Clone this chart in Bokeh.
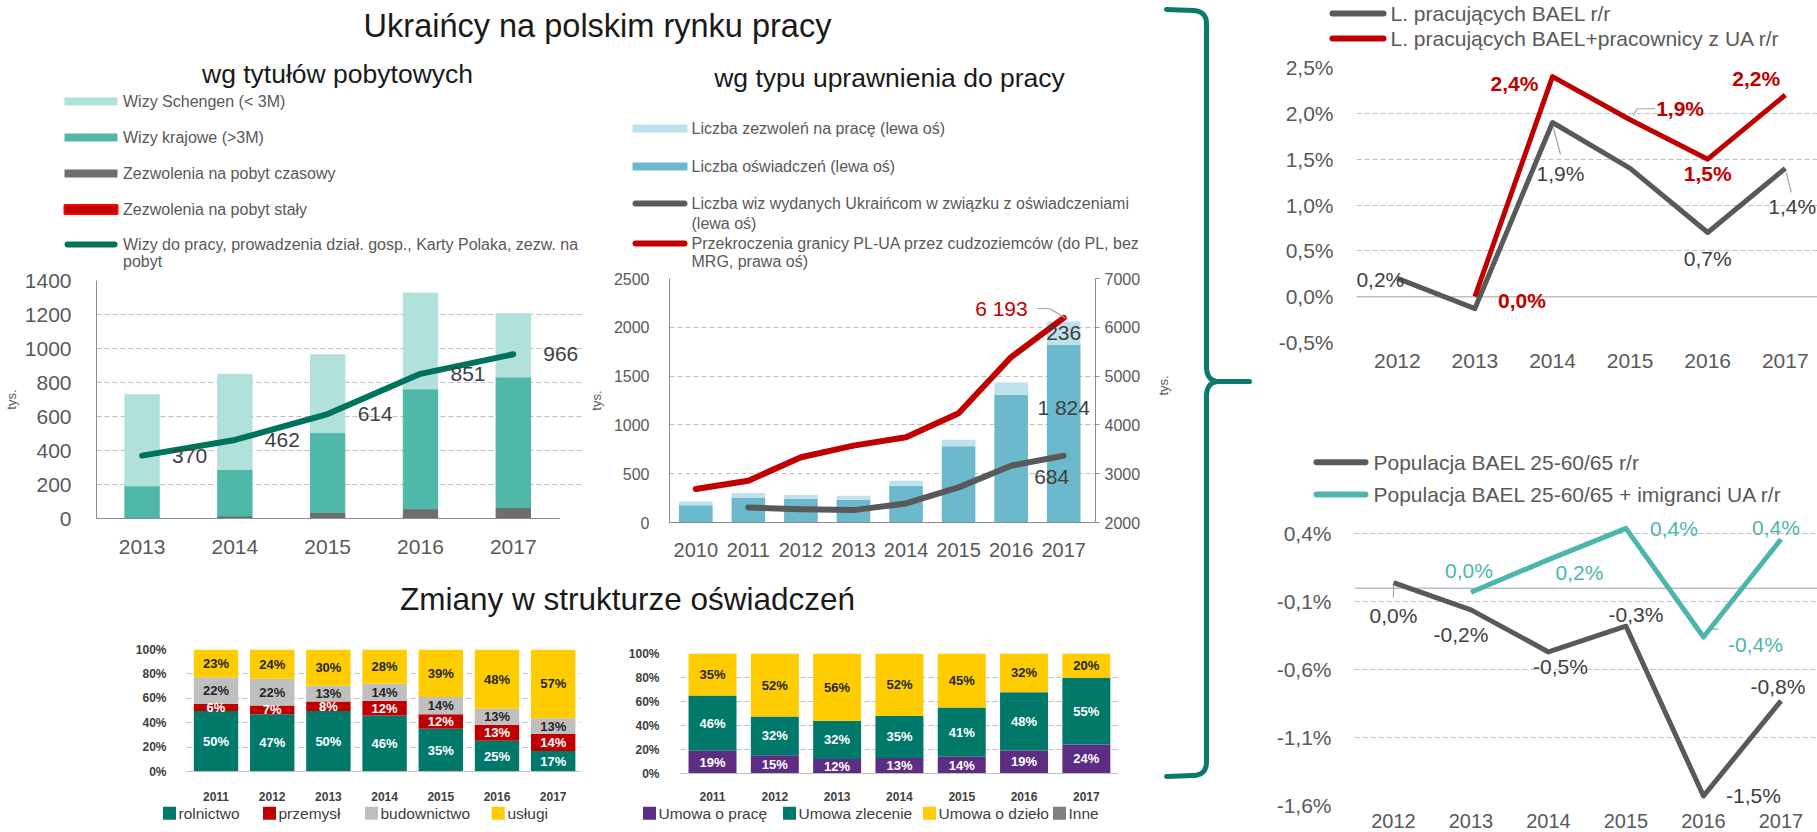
import numpy as np
from bokeh.plotting import figure
from bokeh.layouts import row, column
from bokeh.models import (Range1d, LinearAxis, FixedTicker, ColumnDataSource, LabelSet,
                          CustomJSTickFormatter, Span)
from bokeh.core.properties import value
from bokeh.embed import file_html
from bokeh.resources import INLINE

FONT = "Liberation Sans"

# ------------------------------------------------------------------ data
years_tytuly = [2013, 2014, 2015, 2016, 2017]
wizy_schengen = [536, 560, 458, 564, 372]
wizy_krajowe = [186, 274, 470, 705, 767]
pobyt_czasowy = [2, 9, 29, 50, 57]
pobyt_staly = [4, 5, 6, 7, 8]
wizy_do_pracy = [370, 462, 614, 851, 966]

years_upr = [2010, 2011, 2012, 2013, 2014, 2015, 2016, 2017]
oswiadczenia = [178, 257, 240, 233, 377, 781, 1308, 1824]
zezwolenia = [38, 44, 41, 41, 51, 68, 127, 236]
years_wizy_osw = [2011, 2012, 2013, 2014, 2015, 2016, 2017]
wizy_osw = [154, 137, 127, 195, 360, 582, 684]
granica = [2685, 2856, 3336, 3575, 3747, 4240, 5390, 6193]

years_struktura = [2011, 2012, 2013, 2014, 2015, 2016, 2017]
rolnictwo = [50, 47, 50, 46, 35, 25, 17]
przemysl = [6, 7, 8, 12, 12, 13, 14]
budownictwo = [22, 22, 13, 14, 14, 13, 13]
uslugi = [23, 24, 30, 28, 39, 48, 57]

umowa_o_prace = [19, 15, 12, 13, 14, 19, 24]
umowa_zlecenie = [46, 32, 32, 35, 41, 48, 55]
umowa_o_dzielo = [35, 52, 56, 52, 45, 32, 20]
inne = [0, 0, 0, 0, 0, 0, 0]

years_bael = [2012, 2013, 2014, 2015, 2016, 2017]
bael = [0.2, -0.13, 1.9, 1.4, 0.7, 1.4]
years_bael_ua = [2013, 2014, 2015, 2016, 2017]
bael_ua = [0.0, 2.4, 1.93, 1.5, 2.2]

years_pop = [2012, 2013, 2014, 2015, 2016, 2017]
pop = [0.04, -0.16, -0.47, -0.28, -1.53, -0.83]
years_pop_ua = [2013, 2014, 2015, 2016, 2017]
pop_ua = [-0.03, 0.21, 0.44, -0.36, 0.36]

# ------------------------------------------------------------------ style
GRID = "#BFBFBF"
TICK = "#595959"
DARK = "#404040"
TEAL_D = "#00735F"
RED = "#C00000"
GREYL = "#595959"
TEAL_L = "#4DB6AC"
LEADER = "#A6A6A6"


def pct(v):
    return f"{round(v, 1) + 0.0:.1f}%".replace(".", ",")


def blank(w, h):
    p = figure(width=w, height=h, x_range=Range1d(0, w), y_range=Range1d(h, 0),
               x_axis_type=None, y_axis_type=None, toolbar_location=None,
               output_backend="svg", min_border=0, frame_align=False)
    p.outline_line_color = None
    return p


def txt(p, x, y, s, size, color=TICK, align="left", bold=False, angle=0.0):
    p.text(x=[x], y=[y], text=[s], text_font=value(FONT), text_font_size=size,
           text_color=color, text_align=align, text_baseline="middle",
           text_font_style="bold" if bold else "normal", angle=angle)


def chart(w, h, left, right, top, bottom, xr, yr):
    p = figure(width=w, height=h, x_range=xr, y_range=yr, toolbar_location=None,
               output_backend="svg", min_border_left=left, min_border_right=right,
               min_border_top=top, min_border_bottom=bottom, frame_align=False)
    p.outline_line_color = None
    p.xgrid.visible = False
    p.ygrid.grid_line_color = GRID
    p.ygrid.grid_line_dash = "5 3"
    return p


def style_axis(ax, size, standoff, color=TICK, bold=False, line=None):
    ax.major_label_text_font = FONT
    ax.major_label_text_font_size = size
    ax.major_label_text_color = color
    ax.major_label_text_font_style = "bold" if bold else "normal"
    ax.major_label_standoff = standoff
    ax.major_tick_line_color = None
    ax.minor_tick_line_color = None
    ax.axis_line_color = line


def axis_title(ax, s, standoff):
    ax.axis_label = s
    ax.axis_label_text_font = FONT
    ax.axis_label_text_font_size = "13px"
    ax.axis_label_text_font_style = "normal"
    ax.axis_label_text_color = TICK
    ax.axis_label_standoff = standoff


def labels(p, xs, ys, texts, xo, yo, size, color, align="center", bold=False, **kw):
    src = ColumnDataSource(dict(x=xs, y=ys, text=texts, xo=xo, yo=yo))
    ls = LabelSet(x="x", y="y", text="text", x_offset="xo", y_offset="yo", source=src,
                  text_font=value(FONT), text_font_size=size, text_color=color,
                  text_align=align, text_baseline="middle",
                  text_font_style="bold" if bold else "normal", **kw)
    p.add_layout(ls)


def leader(p, x, y, offsets, px_x, px_y, **kw):
    """thin callout line starting near a data point; offsets in screen pixels (x right, y up)"""
    p.line([x + dx / px_x for dx, dy in offsets], [y + dy / px_y for dx, dy in offsets],
           line_color=LEADER, line_width=1.2, **kw)


# ------------------------------------------------------------------ top text block (0..1155 x 0..270)
top = blank(1155, 270)
txt(top, 597, 25, "Ukraińcy na polskim rynku pracy", "32.5px", "#1A1A1A", "center")
txt(top, 337, 73, "wg tytułów pobytowych", "26.5px", "#1A1A1A", "center")
txt(top, 889, 77, "wg typu uprawnienia do pracy", "26.5px", "#1A1A1A", "center")

leg1_rect = [("#B2E0DA", None, 101, "Wizy Schengen (< 3M)"),
             ("#4FB8A9", None, 137, "Wizy krajowe (>3M)"),
             ("#6D6E70", None, 173, "Zezwolenia na pobyt czasowy"),
             ("#C00000", "#FF0000", 209, "Zezwolenia na pobyt stały")]
for fc, lc, y, s in leg1_rect:
    top.rect(x=[90.5], y=[y], width=[53], height=[8 if lc is None else 9],
             fill_color=fc, line_color=lc, line_width=2)
    txt(top, 122.5, y, s, "16px")
top.line([67, 114], [244, 244], line_color=TEAL_D, line_width=6, line_cap="round")
txt(top, 122.5, 244, "Wizy do pracy, prowadzenia dział. gosp., Karty Polaka, zezw. na", "16px")
txt(top, 122.5, 261, "pobyt", "16px")

for fc, y, s in [("#BEE2EB", 128, "Liczba zezwoleń na pracę (lewa oś)"),
                 ("#6CB8CC", 166, "Liczba oświadczeń (lewa oś)")]:
    top.rect(x=[659.5], y=[y], width=[55], height=[8], fill_color=fc, line_color=None)
    txt(top, 691, y, s, "16px")
top.line([635, 684], [203, 203], line_color=GREYL, line_width=6, line_cap="round")
txt(top, 691, 203, "Liczba wiz wydanych Ukraińcom w związku z oświadczeniami", "16px")
txt(top, 691, 223, "(lewa oś)", "16px")
top.line([635, 684], [243, 243], line_color=RED, line_width=6, line_cap="round")
txt(top, 691, 243, "Przekroczenia granicy PL-UA przez cudzoziemców (do PL, bez", "16px")
txt(top, 691, 261, "MRG, prawa oś)", "16px")

# ------------------------------------------------------------------ chart 1 (0..585 x 270..570)
c1 = chart(585, 300, 96, 3, 10, 52, Range1d(2012.509, 2017.746), Range1d(0, 1400))
src1 = ColumnDataSource(dict(x=years_tytuly, staly=pobyt_staly, czas=pobyt_czasowy,
                             kraj=wizy_krajowe, scheng=wizy_schengen))
c1.vbar_stack(["staly", "czas", "kraj", "scheng"], x="x", width=0.37, source=src1,
              fill_color=["#FF0000", "#6D6E70", "#4FB8A9", "#B2E0DA"],
              line_color=["#FF0000", "#6D6E70", "#4FB8A9", "#B2E0DA"], line_width=1)
c1.line(years_tytuly, wizy_do_pracy, line_color=TEAL_D, line_width=6,
        line_cap="round", line_join="round")
labels(c1, years_tytuly, wizy_do_pracy, [str(v) for v in wizy_do_pracy],
       [30] * 5, [0] * 5, "21px", DARK, align="left")
c1.yaxis.ticker = FixedTicker(ticks=list(range(0, 1401, 200)))
c1.xaxis.ticker = FixedTicker(ticks=years_tytuly)
style_axis(c1.yaxis[0], "21px", 19, line="#8C8C8C")
style_axis(c1.xaxis[0], "21px", 15, line="#8C8C8C")
c1.xaxis.bounds = (2012.509, 2017.498)
axis_title(c1.yaxis[0], "tys.", 3)

# ------------------------------------------------------------------ chart 2 (585..1155 x 270..570)
c2 = chart(570, 300, 75, 60, 8, 48, Range1d(2009.5, 2017.605), Range1d(0, 2500))
c2.extra_y_ranges = {"right": Range1d(2000, 7000)}
src2 = ColumnDataSource(dict(x=years_upr, osw=oswiadczenia, zezw=zezwolenia))
c2.vbar_stack(["osw", "zezw"], x="x", width=0.64, source=src2,
              fill_color=["#6CB8CC", "#BEE2EB"], line_color=None)
c2.line(years_wizy_osw, wizy_osw, line_color=GREYL, line_width=6,
        line_cap="round", line_join="round")
c2.line(years_upr, granica, line_color=RED, line_width=6, line_cap="round",
        line_join="round", y_range_name="right")
ax_r = LinearAxis(y_range_name="right", ticker=FixedTicker(ticks=list(range(2000, 7001, 1000))))
c2.add_layout(ax_r, "right")
c2.yaxis[0].ticker = FixedTicker(ticks=list(range(0, 2501, 500)))
c2.xaxis.ticker = FixedTicker(ticks=years_upr)
style_axis(c2.yaxis[0], "16px", 14, line="#8C8C8C")
style_axis(ax_r, "16px", 5, line="#8C8C8C")
ax_r.major_tick_line_color = "#8C8C8C"
ax_r.major_tick_out = 4
ax_r.major_tick_in = 0
style_axis(c2.xaxis[0], "20px", 14, line="#8C8C8C")
axis_title(c2.yaxis[0], "tys.", 7)

fmt_sp = lambda v: f"{v:,}".replace(",", " ")
labels(c2, [years_upr[-1]], [granica[-1]], [fmt_sp(granica[-1])], [-36], [9],
       "21px", RED, align="right", y_range_name="right")
labels(c2, [years_upr[-1]] * 2 + [years_wizy_osw[-1]],
       [oswiadczenia[-1] + zezwolenia[-1] / 2, oswiadczenia[-1], wizy_osw[-1]],
       [fmt_sp(zezwolenia[-1]), fmt_sp(oswiadczenia[-1]), fmt_sp(wizy_osw[-1])],
       [0, 0, -12], [0, -63, -21], "21px", DARK)
# callout for the border-crossing value (px scale: 53.67 px / year, 0.0488 px / unit on right axis)
leader(c2, years_upr[-1], granica[-1], [(-27, 9.4), (-14.5, 9.4), (1.5, 0)], 53.67, 0.0488,
       y_range_name="right")

# ------------------------------------------------------------------ "Zmiany" strip (570..620)
zm = blank(1155, 50)
txt(zm, 627, 28, "Zmiany w strukturze oświadczeń", "31.5px", "#1A1A1A", "center")


# ------------------------------------------------------------------ stacked charts (620..803)
def stacked(p, years, cols, colors, label_colors, width):
    totals = [sum(v) for v in zip(*cols)]
    data = {"x": years}
    names = []
    for i, col in enumerate(cols):
        data[f"s{i}"] = [v / t * 100 for v, t in zip(col, totals)]
        names.append(f"s{i}")
    p.vbar_stack(names, x="x", width=width, source=ColumnDataSource(data),
                 fill_color=colors, line_color=None)
    xs, ys, tx, tc = [], [], [], []
    base = [0.0] * len(years)
    for i, col in enumerate(cols):
        for j, v in enumerate(col):
            h = v / totals[j] * 100
            if label_colors[i] is not None and v > 0:
                xs.append(years[j]); ys.append(base[j] + h / 2)
                tx.append(f"{v}%"); tc.append(label_colors[i])
            base[j] += h
    src = ColumnDataSource(dict(x=xs, y=ys, text=tx, c=tc))
    p.add_layout(LabelSet(x="x", y="y", text="text", source=src, text_color="c",
                          text_font=value(FONT), text_font_size="13px",
                          text_font_style="bold", text_align="center",
                          text_baseline="middle"))
    p.yaxis.ticker = FixedTicker(ticks=[0, 20, 40, 60, 80, 100])
    p.yaxis.formatter = CustomJSTickFormatter(code="return tick.toFixed(0) + '%';")
    p.xaxis.ticker = FixedTicker(ticks=years)


s1 = chart(614, 183, 186, 34, 29, 30, Range1d(2010.475, 2017.486), Range1d(0, 100))
stacked(s1, years_struktura, [rolnictwo, przemysl, budownictwo, uslugi],
        ["#00796B", "#C00000", "#BFBFBF", "#FFCC00"],
        ["white", "white", "#262626", "#262626"], 0.79)
style_axis(s1.yaxis[0], "12px", 14, DARK, bold=True)
style_axis(s1.xaxis[0], "12px", 14, DARK, bold=True, line="#BFBFBF")

s2 = chart(541, 183, 66, 38, 33, 27, Range1d(2010.486, 2017.50), Range1d(0, 100))
stacked(s2, years_struktura, [umowa_o_prace, umowa_zlecenie, umowa_o_dzielo, inne],
        ["#5C2D82", "#00796B", "#FFCC00", "#7F7F7F"],
        ["white", "white", "#262626", None], 0.77)
style_axis(s2.yaxis[0], "12px", 15, DARK, bold=True)
style_axis(s2.xaxis[0], "12px", 12, DARK, bold=True, line="#BFBFBF")

# bottom legends strip (803..832)
bl = blank(1155, 29)
for sq, tx0, col, s in [(169, 178, "#00796B", "rolnictwo"), (269, 278, "#C00000", "przemysł"),
                        (371, 380, "#BFBFBF", "budownictwo"), (497.7, 507, "#FFCC00", "usługi"),
                        (649, 658, "#5C2D82", "Umowa o pracę"), (789, 798, "#00796B", "Umowa zlecenie"),
                        (929, 938, "#FFCC00", "Umowa o dzieło"), (1059, 1068, "#7F7F7F", "Inne")]:
    bl.rect(x=[sq], y=[9.7], width=[13], height=[13], fill_color=col, line_color=None)
    txt(bl, tx0, 9.7, s, "15.5px", DARK)

# ------------------------------------------------------------------ brace (1155..1262)
br = blank(107, 832)


def quad(p0, c, p1, n=14):
    t = np.linspace(0, 1, n)
    xq = (1 - t) ** 2 * p0[0] + 2 * (1 - t) * t * c[0] + t ** 2 * p1[0]
    yq = (1 - t) ** 2 * p0[1] + 2 * (1 - t) * t * c[1] + t ** 2 * p1[1]
    return list(zip(xq, yq))


path1 = [(1166, 9), (1193, 10)] + quad((1193, 10), (1206, 11), (1206, 23)) + \
        [(1206, 366)] + quad((1206, 366), (1206, 381), (1219, 381)) + [(1249, 381)]
path2 = [(1219, 381)] + quad((1219, 381), (1206, 381), (1206, 396)) + [(1206, 761)] + \
        quad((1206, 761), (1206, 775), (1192, 775)) + [(1166, 776)]
for path in (path1, path2):
    br.line([q[0] - 1155 for q in path], [q[1] for q in path], line_color="#0B7A6A",
            line_width=5, line_cap="round", line_join="round")
txt(br, 8, 385, "tys.", "13px", TICK, "center", angle=np.pi / 2)

# ------------------------------------------------------------------ right top (1262..1817)
leg3 = blank(555, 52)
leg3.line([70, 121], [13, 13], line_color=GREYL, line_width=6, line_cap="round")
txt(leg3, 128, 13, "L. pracujących BAEL r/r", "21px", TICK)
leg3.line([70, 121], [38, 38], line_color=RED, line_width=6, line_cap="round")
txt(leg3, 128, 38, "L. pracujących BAEL+pracownicy z UA r/r", "21px", TICK)

pct_fmt = CustomJSTickFormatter(code="return tick.toFixed(1).replace('.', ',') + '%';")

c3 = chart(555, 328, 94, 0, 15, 38, Range1d(2011.474, 2017.415), Range1d(-0.5, 2.5))
c3.add_layout(Span(location=0, dimension="width", line_color=GRID, line_width=1.5, level="underlay"))
c3.line(years_bael, bael, line_color=GREYL, line_width=5, line_join="round")
c3.line(years_bael_ua, bael_ua, line_color=RED, line_width=5, line_join="round")
c3.yaxis.ticker = FixedTicker(ticks=[-0.5, 0, 0.5, 1.0, 1.5, 2.0, 2.5])
c3.yaxis.formatter = pct_fmt
c3.xaxis.ticker = FixedTicker(ticks=years_bael)
style_axis(c3.yaxis[0], "21px", 17)
style_axis(c3.xaxis[0], "21px", 5)
gi = [0, 2, 4, 5]
labels(c3, [years_bael[i] for i in gi], [bael[i] for i in gi], [pct(bael[i]) for i in gi],
       [-17, 8, 0, 7], [-1, -51, -26, -38], "21px", DARK)
labels(c3, years_bael_ua, bael_ua, [pct(v) for v in bael_ua],
       [47, -38, 50, 0, -29], [-4, -7, 11, -14, 17], "21px", RED, bold=True)
# callouts (px scale: 77.6 px / year, 91.67 px / 1 pp)
leader(c3, years_bael[2], bael[2], [(1, -6), (8, -32)], 77.6, 91.67)
leader(c3, years_bael[5], bael[5], [(1, -4), (6, -24)], 77.6, 91.67)
leader(c3, years_bael_ua[2], bael_ua[2], [(3, 4), (7, 11), (25, 11)], 77.6, 91.67)

# ------------------------------------------------------------------ right bottom
leg4 = blank(555, 132)
leg4.line([54, 103], [81.7, 81.7], line_color=GREYL, line_width=6, line_cap="round")
txt(leg4, 111, 81.7, "Populacja BAEL 25-60/65 r/r", "21px", TICK)
leg4.line([54, 103], [114, 114], line_color=TEAL_L, line_width=6, line_cap="round")
txt(leg4, 111, 114, "Populacja BAEL 25-60/65 + imigranci UA r/r", "21px", TICK)

c4 = chart(555, 320, 92, 0, 5, 27, Range1d(2011.497, 2017.471), Range1d(-1.6, 0.52))
c4.add_layout(Span(location=0, dimension="width", line_color=GRID, line_width=1.5, level="underlay"))
c4.line(years_pop, pop, line_color=GREYL, line_width=5, line_join="round")
c4.line(years_pop_ua, pop_ua, line_color=TEAL_L, line_width=5, line_join="round")
c4.yaxis.ticker = FixedTicker(ticks=[-1.6, -1.1, -0.6, -0.1, 0.4])
c4.yaxis.formatter = pct_fmt
c4.xaxis.ticker = FixedTicker(ticks=years_pop)
style_axis(c4.yaxis[0], "21px", 17)
style_axis(c4.xaxis[0], "20px", 2)
labels(c4, years_pop, pop, [pct(v) for v in pop],
       [0, -10, 12, 10, 50, -3], [-33, -25, -15, 12, 0, 14], "21px", DARK)
labels(c4, years_pop_ua, pop_ua, [pct(v) for v in pop_ua],
       [-2, 31, 48, 52, -5], [22, -13, 0, -7, 12], "21px", TEAL_L)
# callouts (px scale: 77.5 px / year, 135.8 px / 1 pp)
leader(c4, years_pop[0], pop[0], [(0, -3), (0, -15)], 77.5, 135.8)
leader(c4, years_pop_ua[3], pop_ua[3], [(9, 8), (15, 8)], 77.5, 135.8)

# ------------------------------------------------------------------ layout
left_block = column(top, row(c1, c2), zm, row(s1, s2), bl)
right_block = column(leg3, c3, leg4, c4)
layout = row(left_block, br, right_block)

open("out.html", "w").write(file_html(layout, INLINE))
